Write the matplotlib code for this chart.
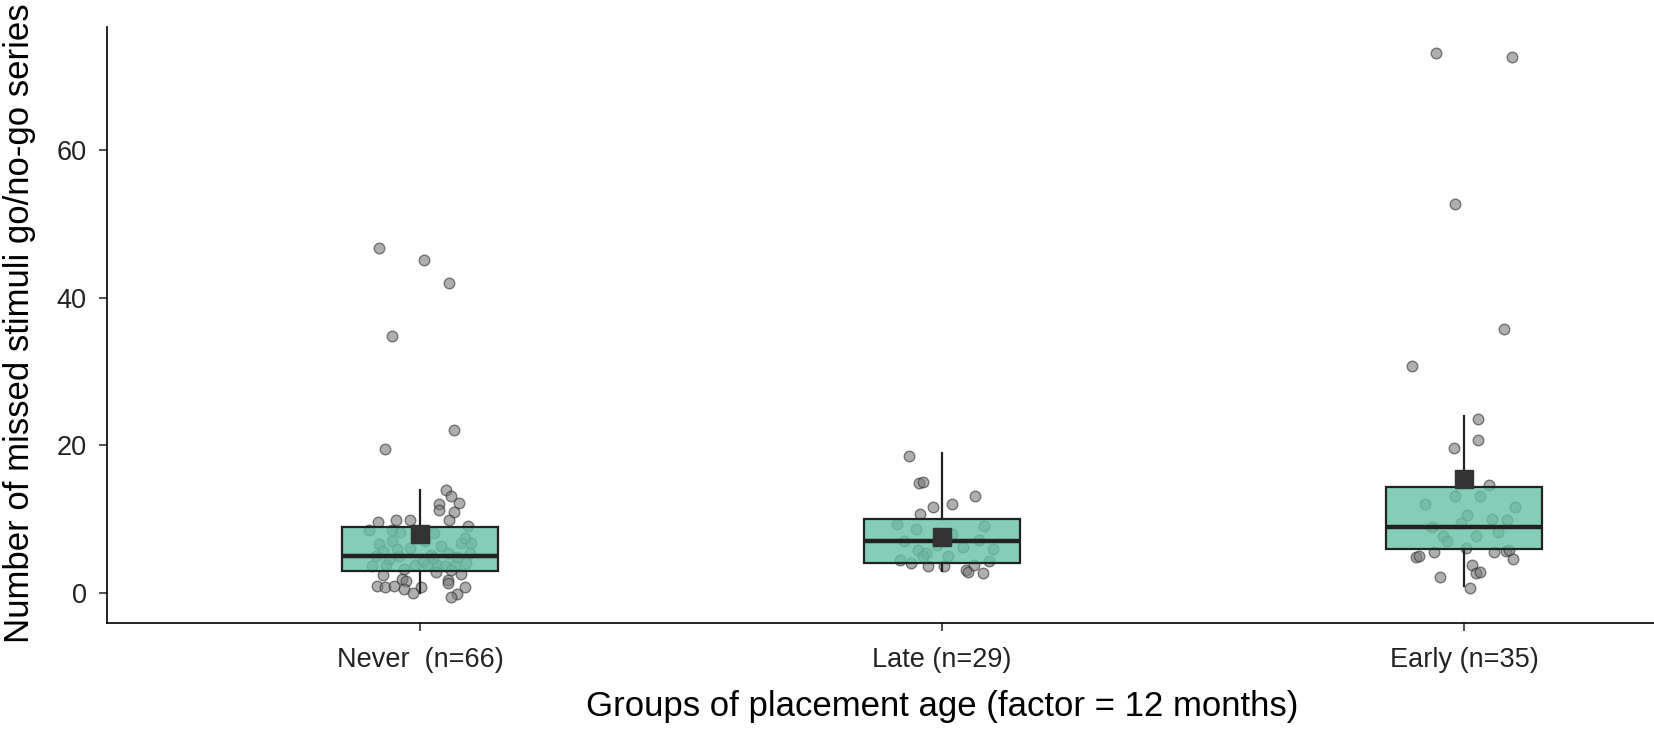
import numpy as np
import matplotlib
matplotlib.use('Agg')
import matplotlib.pyplot as plt

plt.rcParams['font.family'] = ['Liberation Sans', 'DejaVu Sans']

# groups and tick labels
groups = ['Never', 'Late', 'Early']
tick_labels = ['Never  (n=66)', 'Late (n=29)', 'Early (n=35)']

# box statistics
q1 = [3, 4, 6]
median = [5, 7, 9]
q3 = [9, 10, 14.4]
whisker_lo = [0, 3, 1]
whisker_hi = [14, 19, 24]
mean = [8.0, 7.6, 15.4]

# jittered points (offset from group centre, displayed value)
never_dx = [-0.079, 0.007, 0.056, -0.054, 0.065, -0.068, 0.050, 0.060, 0.074, 0.037,
            0.037, 0.064, 0.055, -0.081, -0.047, -0.019, 0.092, -0.098, 0.027, -0.054,
            -0.038, -0.079, -0.053, 0.078, 0.098, -0.072, 0.020, -0.040, 0.095, 0.053,
            -0.093, -0.066, -0.009, 0.013, 0.033, 0.047, 0.066, 0.087, -0.072, 0.030,
            0.078, -0.035, -0.027, 0.053, 0.053, -0.083, -0.067, -0.051, -0.031, 0.001,
            -0.014, 0.085, 0.071, 0.059, -0.020, 0.010, 0.040, -0.085, -0.060, 0.070,
            0.005, -0.030, 0.060, 0.025, -0.045, 0.085]
never_y = [46.8, 45.1, 42.0, 34.8, 22.1, 19.5, 14.0, 13.1, 12.2, 12.1,
           11.2, 11.0, 9.9, 9.6, 9.9, 9.9, 9.1, 8.5, 8.1, 8.5,
           8.2, 6.7, 7.1, 6.8, 6.8, 5.7, 5.2, 5.0, 5.4, 5.4,
           3.6, 3.8, 3.8, 3.8, 3.8, 3.6, 3.8, 4.0, 2.4, 2.9,
           2.5, 1.9, 1.6, 1.8, 1.3, 0.9, 0.8, 1.0, 0.5, 0.8,
           0.0, 0.8, -0.2, -0.6, 6.1, 7.0, 6.3, 5.0, 4.6, 4.9,
           4.3, 3.2, 3.1, 4.7, 6.0, 7.5]

late_dx = [-0.064, -0.045, -0.037, -0.018, 0.019, 0.063, -0.043, -0.087, -0.050, 0.081,
           -0.072, 0.071, 0.097, -0.047, -0.031, -0.037, 0.011, -0.059, -0.027, 0.004,
           0.046, 0.049, 0.062, 0.078, 0.020, -0.010, 0.040, -0.080, 0.090]
late_y = [18.5, 14.9, 15.1, 11.6, 12.1, 13.1, 10.7, 9.4, 8.6, 9.1,
          7.0, 7.2, 5.9, 5.8, 5.4, 5.0, 5.0, 4.1, 3.7, 3.6,
          3.1, 2.9, 3.8, 2.7, 8.0, 6.5, 6.2, 4.5, 4.3]

early_dx = [-0.053, 0.093, -0.018, 0.077, -0.100, 0.027, 0.027, -0.019, 0.048, -0.017,
            0.031, 0.097, 0.006, 0.054, 0.083, -0.062, -0.041, -0.032, 0.024, 0.004,
            -0.091, -0.087, -0.058, 0.057, 0.081, 0.087, 0.094, 0.015, 0.024, 0.031,
            -0.045, 0.011, -0.075, 0.065, -0.005]
early_y = [73.2, 72.6, 52.7, 35.8, 30.8, 23.6, 20.7, 19.7, 14.6, 13.2,
           13.2, 11.6, 10.6, 10.0, 9.9, 8.9, 7.7, 7.0, 7.7, 6.1,
           4.9, 5.0, 5.5, 5.5, 5.7, 5.8, 4.6, 3.8, 2.7, 2.9,
           2.1, 0.6, 12.0, 8.3, 9.5]

point_dx = [never_dx, late_dx, early_dx]
point_y = [never_y, late_y, early_y]

BOX_COLOR = '#66C2A5'
INK = '#222222'

fig = plt.figure(figsize=(16.54, 7.34), dpi=100)
# panel runs past the right edge (the original picture is cropped there)
ax = fig.add_axes([0.0647, 0.151, 1.0097, 0.812])

for i in range(len(groups)):
    ax.scatter(np.array(point_dx[i]) + i + 1, point_y[i], s=58,
               facecolor='#7a7a7a', edgecolor='#333333', linewidths=1.0,
               alpha=0.6, zorder=1)

stats = []
for i in range(len(groups)):
    stats.append(dict(label=groups[i], q1=q1[i], med=median[i], q3=q3[i],
                      whislo=whisker_lo[i], whishi=whisker_hi[i], mean=mean[i],
                      fliers=[]))

ax.bxp(stats, positions=[1, 2, 3], widths=0.3, patch_artist=True,
       showmeans=True, showcaps=False, showfliers=False,
       boxprops=dict(facecolor=matplotlib.colors.to_rgba(BOX_COLOR, 0.8),
                     edgecolor=INK, linewidth=1.6),
       medianprops=dict(color=INK, linewidth=3.2),
       whiskerprops=dict(color=INK, linewidth=1.6),
       meanprops=dict(marker='s', markersize=13, markerfacecolor='#333333',
                      markeredgecolor='#333333'),
       zorder=2)

ax.set_xlim(0.4, 3.6)
ax.set_ylim(-4.1, 76.7)
ax.set_xticks([1, 2, 3])
ax.set_xticklabels(tick_labels)
ax.set_yticks([0, 20, 40, 60])

for side in ['top', 'right']:
    ax.spines[side].set_visible(False)
for side in ['left', 'bottom']:
    ax.spines[side].set_linewidth(1.2)
    ax.spines[side].set_color('black')

ax.tick_params(axis='both', length=5.5, width=1.2, color='#333333',
               labelsize=19.5, labelcolor='#222222')
ax.tick_params(axis='x', pad=12)
ax.tick_params(axis='y', pad=9)

ax.set_xlabel('Groups of placement age (factor = 12 months)', fontsize=25, labelpad=12)
ax.set_ylabel('Number of missed stimuli go/no-go series', fontsize=25)
ax.yaxis.set_label_coords(-0.0425, 0.503)

fig.savefig('out.png', dpi=100)
